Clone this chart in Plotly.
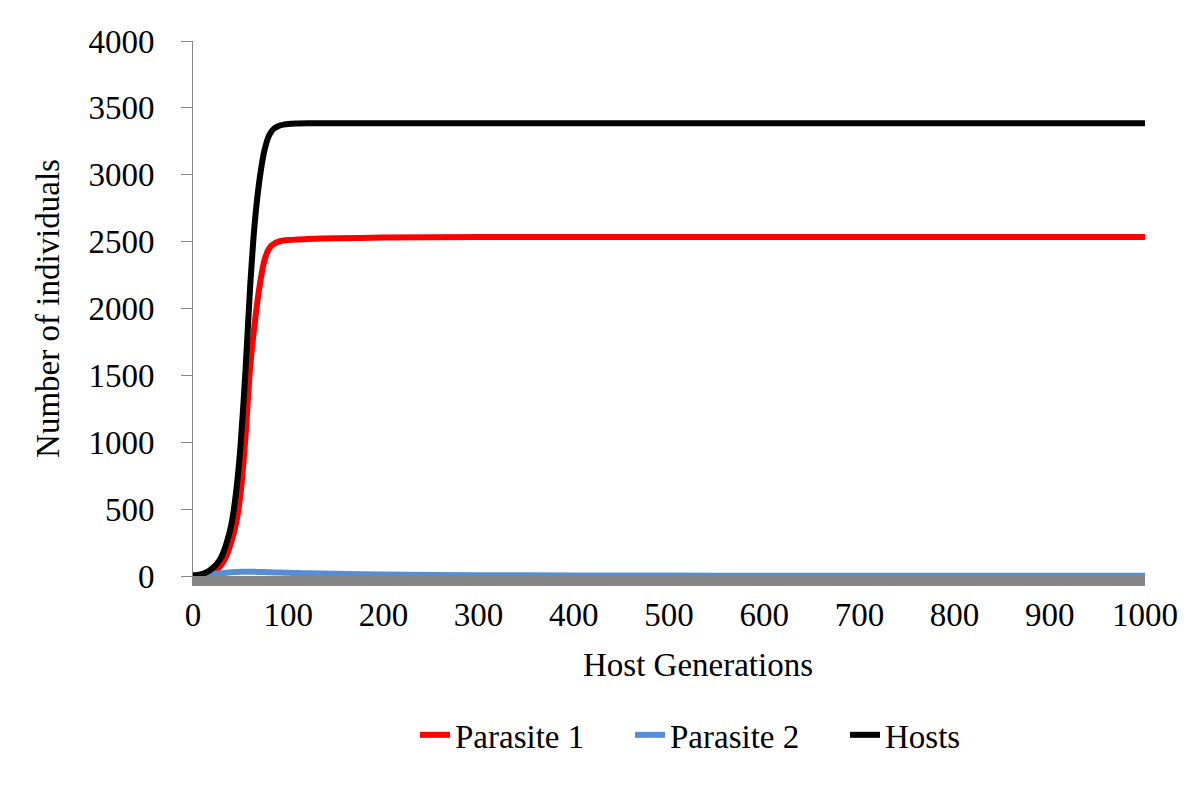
import plotly.graph_objects as go

# --- data ---
generations = [0, 5, 10, 15, 20, 25, 30, 35, 40, 45, 50, 55, 60, 65, 70, 75, 80, 85, 90, 95,
               100, 110, 120, 150, 200, 300, 400, 500, 600, 700, 800, 900, 1000]

parasite1 = [0, 1, 3, 8, 20, 45, 85, 150, 250, 385, 620, 1030, 1560, 1900, 2170, 2360, 2450, 2485,
             2500, 2508, 2512, 2516, 2520, 2525, 2530, 2535, 2535, 2535, 2535, 2535, 2535, 2535, 2535]

parasite2 = [0, 2, 5, 9, 13, 17, 21, 25, 28, 30, 31, 32, 32, 31, 30, 29, 28, 27,
             26, 25, 24, 22, 20, 16, 11, 6, 4, 3, 2, 2, 2, 2, 2]

hosts = [5, 8, 15, 30, 55, 90, 145, 240, 375, 610, 980, 1520, 2160, 2650, 2970, 3180, 3295, 3345,
         3365, 3375, 3380, 3383, 3385, 3385, 3385, 3385, 3385, 3385, 3385, 3385, 3385, 3385, 3385]

y_ticks = [0, 500, 1000, 1500, 2000, 2500, 3000, 3500, 4000]
x_ticks = [0, 100, 200, 300, 400, 500, 600, 700, 800, 900, 1000]

FONT = "Liberation Serif, Times New Roman, serif"

fig = go.Figure()
for name, vals, col in [("Parasite 1", parasite1, "#FF0000"),
                        ("Parasite 2", parasite2, "#558ED5"),
                        ("Hosts", hosts, "#000000")]:
    fig.add_trace(go.Scatter(x=generations, y=vals, name=name, mode="lines",
                             line=dict(color=col, width=6, shape="spline", smoothing=0.6)))

# page body adds an 8px offset, margins compensate for it
fig.update_layout(
    width=1200, height=800,
    plot_bgcolor="white", paper_bgcolor="white",
    font=dict(family=FONT, size=33, color="black"),
    margin=dict(l=185, r=63, t=33, b=232),
    showlegend=True,
    legend=dict(orientation="h", x=0.2332, xanchor="left", y=-0.297, yanchor="middle",
                font=dict(size=33), entrywidth=170, tracegroupgap=0),
)

fig.update_xaxes(range=[0, 1000], tickvals=x_ticks, showgrid=False, zeroline=False,
                 showline=True, linecolor="#868686", linewidth=10, ticks="",
                 tickfont=dict(size=33), ticklabelstandoff=0)

fig.update_yaxes(range=[0, 4000], tickvals=y_ticks, showgrid=False, zeroline=False,
                 showline=True, linecolor="#868686", linewidth=1,
                 ticks="outside", ticklen=11, tickcolor="#868686",
                 tickfont=dict(size=33), ticklabelstandoff=20,
                 title=dict(text="Number of individuals", font=dict(size=33), standoff=18))

fig.add_annotation(text="Host Generations", xref="paper", yref="paper",
                   x=0.530, y=-0.166, xanchor="center", yanchor="middle",
                   showarrow=False, font=dict(size=33))

fig.write_html("out.html")
